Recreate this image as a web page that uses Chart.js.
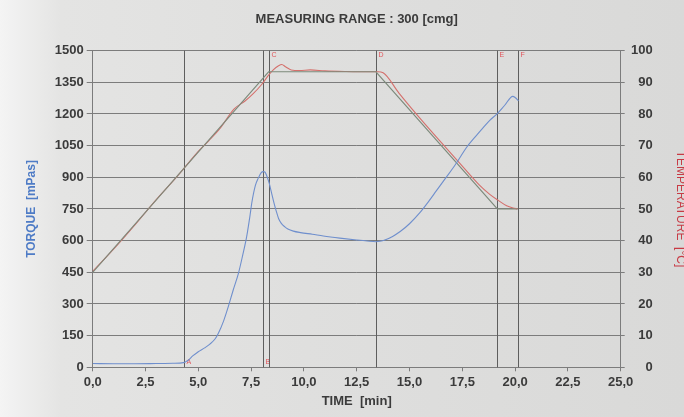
<!DOCTYPE html>
<html>
<head>
<meta charset="utf-8">
<script src="https://cdn.jsdelivr.net/npm/chart.js@4.4.1/dist/chart.umd.min.js"></script>
<style>
  html, body { margin: 0; padding: 0; overflow: hidden; }
  body {
    width: 684px; height: 417px;
    background: linear-gradient(90deg, #f4f4f4 0%, #e4e4e3 9%, #dfdfde 45%, #d9d9d8 100%);
  }
  #wrap { position: relative; width: 692px; height: 417px; }
</style>
</head>
<body>
<div id="wrap"><canvas id="chart"></canvas></div>
<script>
/* ── Data ─────────────────────────────────── */
const xTicks = [0, 2.5, 5, 7.5, 10, 12.5, 15, 17.5, 20, 22.5, 25];

// torque curve, mPas
const torqueTime = [0, 1, 2, 3, 3.8, 4.3, 4.5, 4.75, 5.0, 5.3, 5.55, 5.8, 5.95, 6.2, 6.42, 6.65, 6.9, 7.1, 7.29, 7.45, 7.53, 7.7, 7.84, 7.98, 8.07, 8.15, 8.23, 8.35, 8.46, 8.58, 8.69, 8.8, 8.93, 9.1, 9.24, 9.5, 9.84, 10.4, 10.92, 11.7, 12.5, 13.0, 13.41, 13.6, 13.83, 14.2, 14.56, 15.0, 15.47, 15.9, 16.25, 16.7, 17.06, 17.4, 17.69, 18.1, 18.49, 18.8, 19.12, 19.5, 19.89, 20.0, 20.16];
const torqueVals = [18, 17, 17, 18, 19, 22, 32, 55, 74, 92, 110, 135, 161, 220, 287, 365, 445, 530, 619, 720, 777, 860, 896, 922, 927, 925, 910, 875, 830, 780, 740, 705, 682, 665, 655, 645, 638, 630, 622, 612, 603, 598, 595, 597, 603, 620, 643, 680, 730, 785, 833, 895, 944, 995, 1040, 1090, 1135, 1170, 1198, 1240, 1283, 1278, 1262];

// temperature programme (set), °C
const tempSetTime = [0, 8.33, 13.41, 19.16, 20.12];
const tempSetVals = [30, 93.3, 93.3, 50, 50];

// measured temperature, °C
const tempActTime = [0, 1, 2, 3, 4, 5, 5.5, 6, 6.7, 7.2, 7.6, 8.0, 8.3, 8.55, 8.8, 8.95, 9.15, 9.4, 9.8, 10.3, 11, 12, 13, 13.5, 13.75, 14.5, 15.5, 16.5, 17.5, 18.3, 18.8, 19.2, 19.6, 19.9, 20.12];
const tempActVals = [30.3, 37.4, 45.0, 52.9, 60.3, 68.2, 71.6, 75.2, 81.6, 84.0, 86.4, 89.3, 92.0, 93.9, 95.2, 95.6, 94.8, 93.9, 93.7, 93.9, 93.6, 93.4, 93.3, 93.3, 93.0, 86.6, 78.6, 71.0, 63.5, 57.6, 54.6, 52.7, 51.0, 50.3, 50.0];

// phase markers
const markerNames = ['A', 'B', 'C', 'D', 'E', 'F'];
const markerTimes = [4.33, 8.06, 8.33, 13.41, 19.16, 20.12];

/* ── Helpers ──────────────────────────────── */
const pts = (xs, ys) => xs.map((x, i) => ({ x, y: ys[i] }));
const FONT = 'Liberation Sans, Arial, sans-serif';
const INK = '#3b3b3b';
const GRID = '#7c7c7c';
const TICKFONT = { family: FONT, size: 13, weight: 'bold' };

// vertical phase lines + their little red letters
const markerPlugin = {
  id: 'markers',
  beforeDatasetsDraw(chart) {
    const { ctx, chartArea: a, scales: { x } } = chart;
    ctx.save();
    ctx.strokeStyle = '#5e5e5e';
    ctx.lineWidth = 1;
    ctx.font = '7px ' + FONT;
    ctx.fillStyle = '#e0545a';
    markerTimes.forEach((t, i) => {
      const px = Math.round(x.getPixelForValue(t)) + 0.5;
      ctx.beginPath();
      ctx.moveTo(px, a.top);
      ctx.lineTo(px, a.bottom);
      ctx.stroke();
      if (i < 2) {
        ctx.textBaseline = 'bottom';
        ctx.fillText(markerNames[i], px + 2, a.bottom - 2);
      } else {
        ctx.textBaseline = 'top';
        ctx.fillText(markerNames[i], px + 2, a.top + 1);
      }
    });
    ctx.restore();
  }
};

/* ── Chart ────────────────────────────────── */
new Chart(document.getElementById('chart'), {
  type: 'line',
  data: {
    datasets: [
      { label: 'Torque', data: pts(torqueTime, torqueVals), yAxisID: 'y', borderColor: '#6f8fcd', borderWidth: 1.1, pointRadius: 0, cubicInterpolationMode: 'monotone' },
      { label: 'Temp set', data: pts(tempSetTime, tempSetVals), yAxisID: 'y2', borderColor: '#7d8a7b', borderWidth: 1.1, pointRadius: 0, tension: 0 },
      { label: 'Temp', data: pts(tempActTime, tempActVals), yAxisID: 'y2', borderColor: '#d4706c', borderWidth: 1.1, pointRadius: 0, cubicInterpolationMode: 'monotone' },
    ]
  },
  options: {
    responsive: true,
    maintainAspectRatio: false,
    animation: false,
    devicePixelRatio: 1,
    layout: { padding: { left: 0, right: 39.3, top: 0, bottom: 0 } },
    plugins: {
      legend: { display: false },
      tooltip: { enabled: false },
      title: {
        display: true, fullSize: false, text: 'MEASURING RANGE : 300 [cmg]', color: INK,
        font: { family: FONT, size: 13, weight: 'bold' },
        padding: { top: 12, bottom: 23 }
      }
    },
    scales: {
      x: {
        type: 'linear', min: 0, max: 25,
        afterBuildTicks: s => { s.ticks = xTicks.map(v => ({ value: v })); },
        afterFit: s => { s.height = 49.7; },
        ticks: { color: INK, font: TICKFONT, padding: 3, maxRotation: 0, autoSkip: false,
                 callback: v => v.toFixed(1).replace('.', ',') },
        grid: { drawOnChartArea: false, tickLength: 4, color: GRID },
        border: { color: GRID },
        title: { display: true, text: 'TIME  [min]', color: INK, font: { family: FONT, size: 13, weight: 'bold' }, padding: { top: 0, bottom: 7.7 } }
      },
      y: {
        min: 0, max: 1500,
        afterFit: s => { s.width = 92.7; },
        ticks: { stepSize: 150, color: INK, font: TICKFONT, padding: 3, callback: v => String(v) },
        grid: { color: GRID, tickLength: 6 },
        border: { color: GRID },
        title: { display: true, text: 'TORQUE  [mPas]', color: '#4f7cc6', font: { family: FONT, size: 12, weight: 'bold' }, padding: { top: 24.8, bottom: 0 } }
      },
      y2: {
        position: 'right', min: 0, max: 100,
        afterFit: s => { s.width = 32; },
        ticks: { stepSize: 10, color: INK, font: TICKFONT, padding: 8, crossAlign: 'far', callback: v => String(v) },
        grid: { drawOnChartArea: false, tickLength: 4, color: GRID },
        border: { color: GRID },
        title: { display: true, text: 'TEMPERATURE  [°C]', color: '#c83a44', font: { family: FONT, size: 12 }, padding: { top: -34.5, bottom: 0 } }
      }
    }
  },
  plugins: [markerPlugin]
});
</script>
</body>
</html>
